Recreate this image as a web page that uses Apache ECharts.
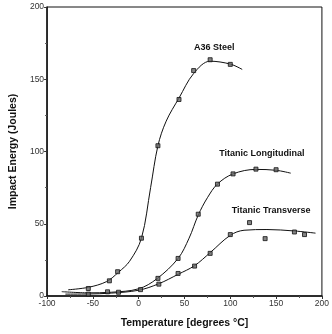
<!DOCTYPE html>
<html>
<head>
<meta charset="utf-8">
<script src="https://cdn.jsdelivr.net/npm/echarts@6/dist/echarts.min.js"></script>
<style>
html,body{margin:0;padding:0;background:#fff;}
#chart{width:332px;height:334px;}
</style>
</head>
<body>
<div id="chart"></div>
<script>
// Measured points [temperature °C, impact energy J]
var a36Points = [[-55,5.2],[-32,10.5],[-23,16.8],[3,40],[21,104],[44,136],[60,156],[78,163.5],[100,160.3]];
var longPoints = [[-55,1.3],[-34,2.9],[-22,2.6],[2,4.4],[21,12.2],[43,26],[65,56.6],[86,77.4],[103,84.5],[128,87.8],[150,87.4]];
var transPoints = [[22,8.2],[43,15.6],[61,20.7],[78,29.5],[100,42.5],[121,50.8],[138,39.7],[170,44.3],[181,42.5]];

// Fitted curves as drawn
var a36Curve = [[-77,4.3],[-55,6],[-35,10],[-22,16.5],[-10,24],[3,40],[13,75],[21,104],[30,121],[44,137],[60,154],[78,162.5],[100,160.5],[113,156.8]];
var longCurve = [[-84,3],[-55,2.2],[-30,2.6],[0,5],[20,12],[43,26],[55,40],[65,56],[75,68],[86,77.5],[103,84.5],[128,87.6],[150,87],[166,85]];
var transCurve = [[-80,1.3],[-55,1.4],[-30,2],[0,4],[22,8.5],[43,15],[61,21],[78,30],[100,42],[115,45.5],[140,46],[170,45],[193,43.5]];

var seriesNames = ['A36 Steel','Titanic Longitudinal','Titanic Transverse'];
var nameAnchors = [[82.6,171.9],[134.4,98.3],[144.6,58.9]];

var xTicks = {min:-100, max:200, interval:50};
var yTicks = {min:0, max:200, interval:50};

var chart = echarts.init(document.getElementById('chart'));
var font = 'Liberation Sans, Arial, sans-serif';

function curveSeries(data, idx){
  return {
    type:'line', data:data, smooth:0.35, showSymbol:false, silent:true,
    lineStyle:{color:'#111', width:1},
    markPoint: idx==null ? undefined : {
      symbol:'rect', symbolSize:0,
      data:[{coord:nameAnchors[idx], value:seriesNames[idx]}],
      label:{show:true, position:'inside', formatter:seriesNames[idx], color:'#111',
             fontFamily:font, fontWeight:'bold', fontSize:9}
    },
    z:2
  };
}
function pointSeries(data){
  return {
    type:'scatter', data:data, symbol:'rect', symbolSize:4,
    itemStyle:{color:'#666', borderColor:'#111', borderWidth:1}, z:3
  };
}

chart.setOption({
  animation:false,
  backgroundColor:'#fff',
  grid:{left:41, top:7, right:10, bottom:37.5, show:true, borderColor:'#111', borderWidth:1},
  xAxis:{
    type:'value', min:xTicks.min, max:xTicks.max, interval:xTicks.interval,
    name:'Temperature [degrees °C]', nameLocation:'middle', nameGap:22,
    nameTextStyle:{fontFamily:font, fontWeight:'bold', fontSize:10.5, color:'#111'},
    axisLine:{onZero:false, lineStyle:{color:'#111', width:1.5}},
    axisTick:{show:true, inside:false, length:3, lineStyle:{color:'#333'}},
    minorTick:{show:true, splitNumber:2, length:2, lineStyle:{color:'#555'}},
    splitLine:{show:false},
    axisLabel:{fontFamily:font, fontSize:8.5, color:'#333', margin:3}
  },
  yAxis:{
    type:'value', min:yTicks.min, max:yTicks.max, interval:yTicks.interval,
    name:'Impact Energy (Joules)', nameLocation:'middle', nameGap:26,
    nameTextStyle:{fontFamily:font, fontWeight:'bold', fontSize:10.5, color:'#111'},
    axisLine:{onZero:false, lineStyle:{color:'#111', width:1.5}},
    axisTick:{show:true, inside:false, length:3, lineStyle:{color:'#333'}},
    minorTick:{show:true, splitNumber:2, length:2, lineStyle:{color:'#555'}},
    splitLine:{show:false},
    axisLabel:{fontFamily:font, fontSize:8.5, color:'#333', margin:3}
  },
  series:[
    curveSeries(a36Curve, 0),
    curveSeries(longCurve, 1),
    curveSeries(transCurve, 2),
    pointSeries(a36Points),
    pointSeries(longPoints),
    pointSeries(transPoints)
  ]
});
</script>
</body>
</html>
